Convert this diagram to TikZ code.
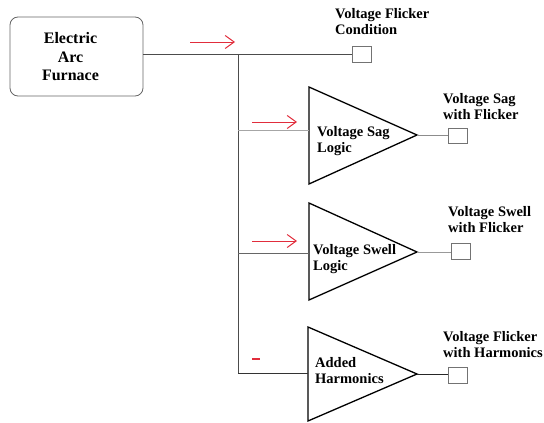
\documentclass[tikz,border=0pt]{standalone}
\usepackage{fontspec}
\setmainfont{Liberation Serif}
\usetikzlibrary{arrows.meta}
\definecolor{arrowred}{RGB}{225,45,60}
\tikzset{
  furnace/.style={draw=black!60, line width=0.8pt, rounded corners=8pt, minimum width=133pt, minimum height=79pt, inner sep=0pt},
  furnacetext/.style={align=center, inner sep=0pt, font=\fontsize{16}{18.5}\selectfont\bfseries},
  lbl/.style={align=left, inner sep=0pt, anchor=north west, font=\fontsize{14.5}{16.5}\selectfont\bfseries},
  outbox/.style={draw=black!55, line width=0.7pt, minimum width=19pt, minimum height=16pt, inner sep=0pt},
  wire/.style={draw=black!70, line width=0.9pt},
  tri/.style={draw=black, line width=1.3pt, line join=miter},
  redarrow/.style={draw=arrowred, line width=1pt, -{Straight Barb[length=9pt,width=13pt]}},
}
\begin{document}
\begin{tikzpicture}[x=1pt,y=-1pt]
\useasboundingbox (0,0) rectangle (544,423);
% furnace box
\node[furnace] (eaf) at (76.5,56.5) {};
\node[furnacetext] (eaft) at (70.5,57) {Electric\\Arc\\Furnace};
% output squares
\node[outbox] (vfc) at (361.5,54) {};
\node[outbox, minimum height=15pt] (sq1) at (457.5,135.5) {};
\node[outbox] (sq2) at (460.5,251) {};
\node[outbox] (sq3) at (457.5,375) {};
% triangles
\draw[tri] (309,87) coordinate (t1a) -- (309,184) -- (417,135) coordinate (t1o) -- cycle;
\draw[tri] (309,203) coordinate (t2a) -- (309,300) -- (417,252) coordinate (t2o) -- cycle;
\draw[tri] (308,327) coordinate (t3a) -- (308,421) -- (417,374) coordinate (t3o) -- cycle;
\coordinate (t1in) at (309,130);
\coordinate (t2in) at (309,253);
\coordinate (t3in) at (308,373);
% junctions
\coordinate (j0) at (238,54);
\coordinate (j1) at (238,130);
\coordinate (j2) at (238,253);
\coordinate (j3) at (238,373);
% wires
\draw[wire] (eaf.east |- vfc.west) -- (vfc.west);
\draw[wire] (j0) -- (j3);
\draw[wire, draw=black!35] (j1) -- (t1in);
\draw[wire, draw=black!60] (j2) -- (t2in);
\draw[wire, draw=black!80] (j3) -- (t3in);
\draw[wire, draw=black!45] (t1o) -- (sq1.west |- t1o);
\draw[wire, draw=black!40] (t2o) -- (sq2.west |- t2o);
\draw[wire, draw=black!85] (t3o) -- (sq3.west |- t3o);
% red arrows
\draw[redarrow] (190,42) -- (235,42);
\draw[redarrow] (252,122) -- (297,122);
\draw[redarrow] (252,241) -- (297,241);
\draw[draw=arrowred, line width=1.2pt] (252,359) -- (260,359);
% labels
\node[lbl] (lvfc) at (335,8) {Voltage Flicker\\Condition};
\node[lbl] (lsag) at (443,93) {Voltage Sag\\with Flicker};
\node[lbl] (lswell) at (448,206) {Voltage Swell\\with Flicker};
\node[lbl] (lharm) at (443,331) {Voltage Flicker\\with Harmonics};
\node[lbl] (tsag) at (317,126) {Voltage Sag\\Logic};
\node[lbl] (tswell) at (313,244) {Voltage Swell\\Logic};
\node[lbl] (tharm) at (315,357) {Added\\Harmonics};
\end{tikzpicture}
\end{document}
